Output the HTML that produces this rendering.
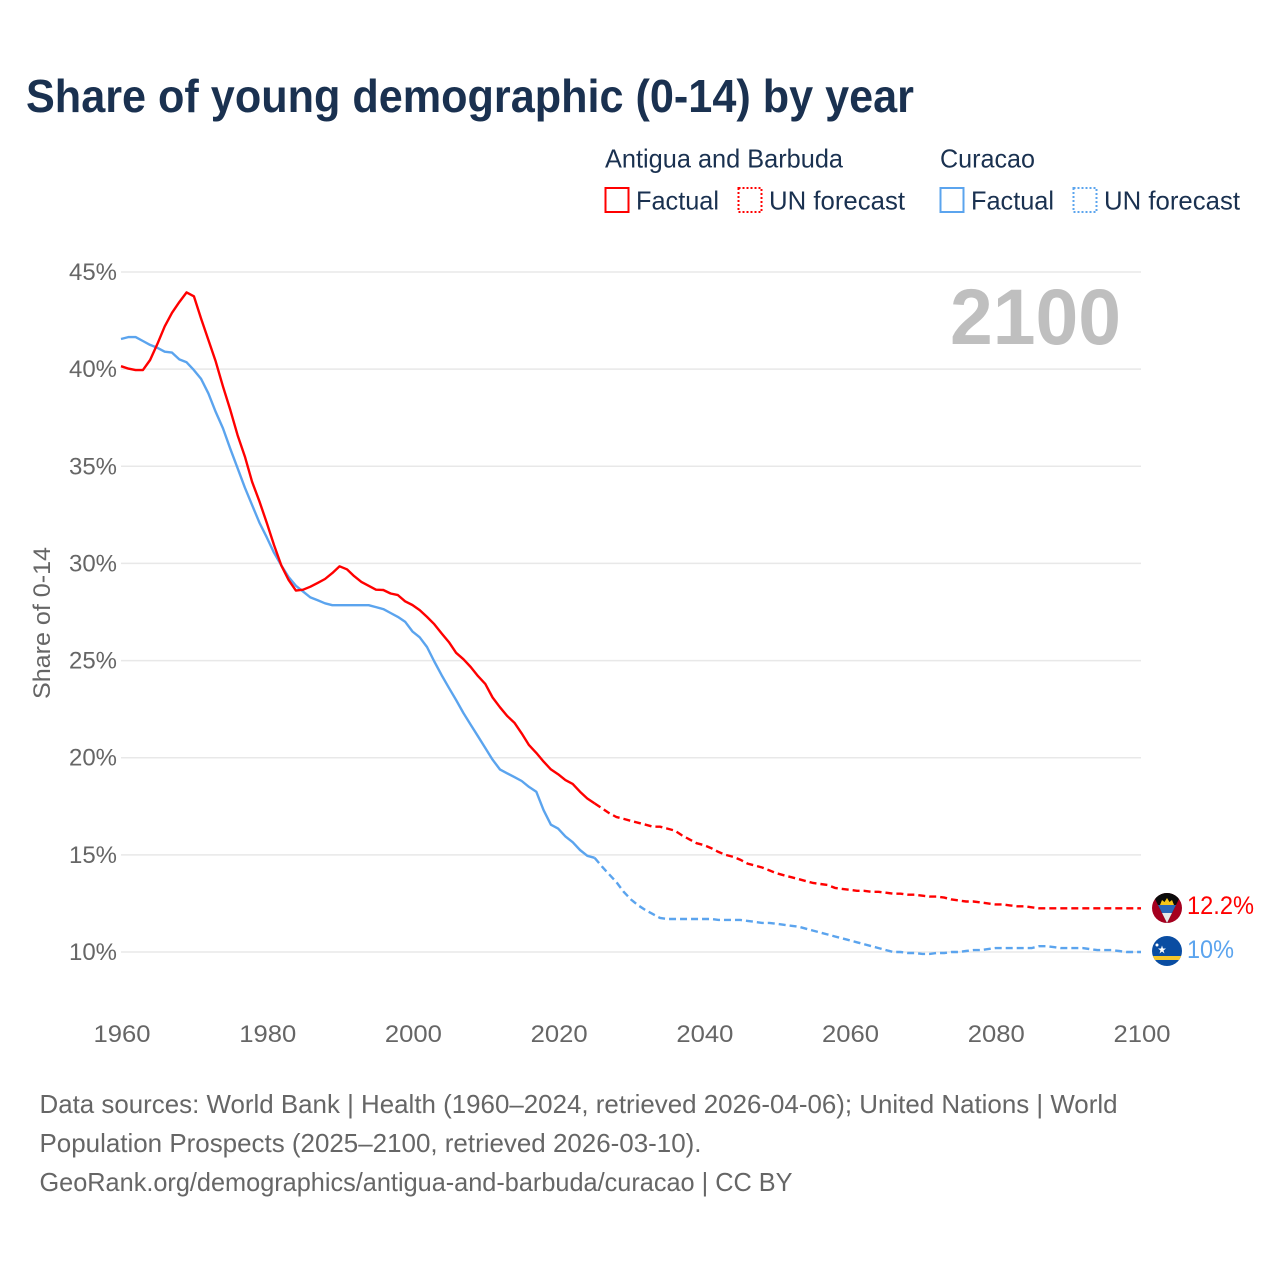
<!DOCTYPE html>
<html lang="en">
<head>
<meta charset="utf-8">
<title>Share of young demographic (0-14) by year</title>
<style>
html,body{margin:0;padding:0;background:#fff;}
svg{display:block;font-family:"Liberation Sans",sans-serif;}
</style>
</head>
<body>
<svg id="chart" width="1280" height="1280" viewBox="0 0 1280 1280" xmlns="http://www.w3.org/2000/svg">
  <rect width="1280" height="1280" fill="#fff"/>
  <text x="26" y="112" font-size="46" font-weight="700" fill="#1a3150" textLength="888" lengthAdjust="spacingAndGlyphs">Share of young demographic (0-14) by year</text>

  <g font-size="26" fill="#1a3150">
    <text x="605" y="167.500" textLength="238" lengthAdjust="spacingAndGlyphs">Antigua and Barbuda</text>
    <text x="940" y="167.500" textLength="95" lengthAdjust="spacingAndGlyphs">Curacao</text>
    <rect x="605.500" y="188" width="23" height="24" fill="none" stroke="#ff0000" stroke-width="2"/>
    <text x="636" y="209.500" textLength="83" lengthAdjust="spacingAndGlyphs">Factual</text>
    <rect x="738.500" y="188" width="23" height="24" fill="none" stroke="#ff0000" stroke-width="2" stroke-dasharray="2 2"/>
    <text x="769" y="209.500" textLength="136" lengthAdjust="spacingAndGlyphs">UN forecast</text>
    <rect x="940.500" y="188" width="23" height="24" fill="none" stroke="#5ba4ee" stroke-width="2"/>
    <text x="971" y="209.500" textLength="83" lengthAdjust="spacingAndGlyphs">Factual</text>
    <rect x="1073.500" y="188" width="23" height="24" fill="none" stroke="#5ba4ee" stroke-width="2" stroke-dasharray="2 2"/>
    <text x="1104" y="209.500" textLength="136" lengthAdjust="spacingAndGlyphs">UN forecast</text>
  </g>

  <g id="grid"></g>
  <g id="yticks"></g>
  <g id="xticks"></g>

  <text transform="translate(50,623) rotate(-90)" text-anchor="middle" font-size="24" fill="#666" textLength="152" lengthAdjust="spacingAndGlyphs">Share of 0-14</text>
  <text x="950" y="344" font-size="79" font-weight="700" fill="#bfbfbf" textLength="171" lengthAdjust="spacingAndGlyphs">2100</text>

  <g id="series"></g>

  <defs>
    <clipPath id="clip-ag"><circle cx="1167" cy="908" r="15"/></clipPath>
    <clipPath id="clip-cw"><circle cx="1167" cy="951" r="15"/></clipPath>
  </defs>
  <g clip-path="url(#clip-ag)">
    <rect x="1152" y="893" width="30" height="30" fill="#a5001f"/>
    <polygon points="1153,893 1181,893 1181,895 1167,923 1153,895" fill="#0b0b0b"/>
    <polygon points="1158,905 1176,905 1172,913 1162,913" fill="#2a66b8"/>
    <polygon points="1162,913 1172,913 1167,923" fill="#e8e8e8"/>
    <polygon points="1160,905 1162,900 1164.500,902 1167,898 1169.500,902 1172,900 1174,905" fill="#f6c61a"/>
  </g>
  <g clip-path="url(#clip-cw)">
    <rect x="1152" y="936" width="30" height="30" fill="#0a4da2"/>
    <rect x="1152" y="956" width="30" height="4" fill="#f5c72c"/>
    <polygon points="1162,945.500 1163,948.500 1166,948.500 1163.500,950.500 1164.500,953.500 1162,951.500 1159.500,953.500 1160.500,950.500 1158,948.500 1161,948.500" fill="#fff"/>
    <circle cx="1157" cy="945" r="1.500" fill="#fff"/>
  </g>
  <text x="1187" y="914" font-size="25" fill="#ff0000" textLength="67" lengthAdjust="spacingAndGlyphs">12.2%</text>
  <text x="1187" y="958" font-size="25" fill="#5ba4ee" textLength="47" lengthAdjust="spacingAndGlyphs">10%</text>

  <g font-size="26" fill="#666">
    <text x="39.500" y="1113" textLength="1078" lengthAdjust="spacingAndGlyphs">Data sources: World Bank | Health (1960–2024, retrieved 2026-04-06); United Nations | World</text>
    <text x="39.500" y="1152" textLength="662" lengthAdjust="spacingAndGlyphs">Population Prospects (2025–2100, retrieved 2026-03-10).</text>
    <text x="39.500" y="1191" textLength="753" lengthAdjust="spacingAndGlyphs">GeoRank.org/demographics/antigua-and-barbuda/curacao | CC BY</text>
  </g>
</svg>
<script>
const yTickValues = [10, 15, 20, 25, 30, 35, 40, 45];
const xTickValues = [1960, 1980, 2000, 2020, 2040, 2060, 2080, 2100];
const startYear = 1960;
const lastFactualYear = 2025;
const antiguaValues = [
  40.15,40.03,39.95,39.95,40.47,41.3,42.2,42.9,43.45,43.95,
  43.75,42.6,41.5,40.4,39.1,37.9,36.6,35.5,34.2,33.2,
  32.1,30.95,29.9,29.15,28.6,28.65,28.8,29,29.2,29.5,
  29.85,29.7,29.35,29.05,28.85,28.65,28.63,28.45,28.37,28.05,
  27.86,27.6,27.25,26.87,26.4,25.95,25.4,25.07,24.67,24.2,
  23.8,23.1,22.6,22.15,21.8,21.25,20.65,20.25,19.8,19.4,
  19.15,18.85,18.65,18.25,17.9,17.65,17.4,17.15,16.95,16.85,
  16.75,16.65,16.55,16.45,16.45,16.35,16.25,16,15.8,15.6,
  15.5,15.35,15.15,15,14.9,14.75,14.55,14.45,14.35,14.2,
  14.05,13.95,13.85,13.75,13.65,13.55,13.5,13.45,13.3,13.25,
  13.2,13.15,13.15,13.1,13.1,13.05,13,13,12.95,12.95,
  12.9,12.85,12.85,12.8,12.7,12.65,12.6,12.6,12.55,12.5,
  12.45,12.45,12.4,12.35,12.35,12.3,12.25,12.25,12.25,12.25,
  12.25,12.25,12.25,12.25,12.25,12.25,12.25,12.25,12.25,12.25,12.25
];
const curacaoValues = [
  41.55,41.65,41.65,41.45,41.25,41.1,40.9,40.85,40.5,40.35,
  39.95,39.5,38.75,37.8,36.95,35.9,34.9,33.9,33,32.1,
  31.35,30.55,29.9,29.3,28.85,28.55,28.25,28.1,27.95,27.85,
  27.85,27.85,27.85,27.85,27.85,27.75,27.65,27.45,27.25,27,
  26.5,26.2,25.7,24.95,24.25,23.6,22.97,22.3,21.7,21.1,
  20.5,19.9,19.4,19.2,19,18.8,18.5,18.25,17.3,16.55,
  16.35,15.95,15.65,15.25,14.95,14.85,14.4,14,13.6,13.1,
  12.7,12.4,12.15,11.95,11.75,11.7,11.7,11.7,11.7,11.7,
  11.7,11.7,11.65,11.65,11.65,11.65,11.6,11.55,11.5,11.5,
  11.45,11.4,11.35,11.3,11.2,11.1,11,10.9,10.8,10.7,
  10.6,10.5,10.4,10.3,10.2,10.1,10,10,9.95,9.95,
  9.9,9.9,9.95,9.95,10,10,10.05,10.1,10.1,10.15,
  10.2,10.2,10.2,10.2,10.2,10.2,10.3,10.3,10.25,10.2,
  10.2,10.2,10.2,10.15,10.1,10.1,10.1,10.05,10,10,10
];

const NS = 'http://www.w3.org/2000/svg';
function xScale(year) { return 121 + (year - 1960) * (1020 / 140); }
function yScale(v) { return 952 - (v - 10) * (680 / 35); }
function make(tag, attrs, parent) {
  const el = document.createElementNS(NS, tag);
  for (const k in attrs) el.setAttribute(k, attrs[k]);
  parent.appendChild(el);
  return el;
}
const gridG = document.getElementById('grid');
const yG = document.getElementById('yticks');
const xG = document.getElementById('xticks');
const seriesG = document.getElementById('series');

yTickValues.forEach(function (v) {
  const line = make('line', { x1: 121, x2: 1141, y1: yScale(v), y2: yScale(v), stroke: '#e8e8e8', 'stroke-width': 1.5 }, gridG);
  
  
  const t = make('text', { x: 117, y: yScale(v) + 8, 'text-anchor': 'end', 'font-size': 24, fill: '#666', textLength: 48, lengthAdjust: 'spacingAndGlyphs' }, yG);
  
  
  t.textContent = v + '%';
});
xTickValues.forEach(function (yr) {
  const t = make('text', { x: xScale(yr) + 1, y: 1042, 'text-anchor': 'middle', 'font-size': 24, fill: '#666', textLength: 57, lengthAdjust: 'spacingAndGlyphs' }, xG);
  
  
  t.textContent = yr;
});
function pathFor(values, fromYear, toYear) {
  let d = '';
  for (let yr = fromYear; yr <= toYear; yr++) {
    const v = values[yr - startYear];
    d += (d ? 'L' : 'M') + xScale(yr).toFixed(1) + ' ' + yScale(v).toFixed(1);
  }
  return d;
}
function drawSeries(values, color, key) {
  const solid = make('path', { d: pathFor(values, startYear, lastFactualYear), fill: 'none', stroke: color, 'stroke-width': 2.4, 'stroke-linejoin': 'round' }, seriesG);
  
  
  const dash = make('path', { d: pathFor(values, lastFactualYear, startYear + values.length - 1), fill: 'none', stroke: color, 'stroke-width': 2.4, 'stroke-dasharray': '7 4' }, seriesG);
  
  
}
drawSeries(curacaoValues, '#5ba4ee', 'curacao');
drawSeries(antiguaValues, '#ff0000', 'antigua');
</script>
</body>
</html>
